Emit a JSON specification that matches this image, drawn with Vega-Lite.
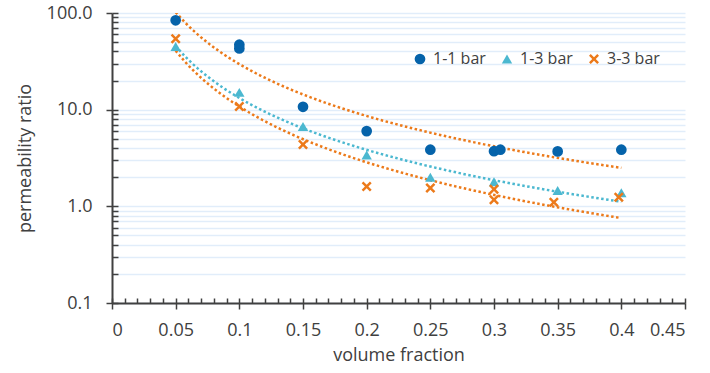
{
  "$schema": "https://vega.github.io/schema/vega-lite/v6.json",
  "width": 573,
  "height": 290,
  "autosize": {"type": "none"},
  "padding": {"left": 112, "top": 13, "right": 25, "bottom": 70},
  "background": "white",
  "config": {
    "font": "Open Sans",
    "view": {"stroke": null},
    "axis": {"labelColor": "#404040", "titleColor": "#404040", "domainColor": "#404040", "tickColor": "#404040", "labelFont": "Open Sans", "titleFont": "Open Sans", "titleFontWeight": "normal", "labelFontSize": 18, "titleFontSize": 18},
    "legend": {"orient": "none", "legendX": 300, "legendY": 38, "direction": "horizontal", "labelFontSize": 16, "labelColor": "#404040", "labelFont": "Open Sans", "columnPadding": 13, "labelOffset": 5, "padding": 0, "symbolStrokeWidth": 0}
  },
  "data": {
    "values": [
      {"series": "1-1 bar", "vf": 0.05, "value": 84},
      {"series": "1-1 bar", "vf": 0.1, "value": 47},
      {"series": "1-1 bar", "vf": 0.1, "value": 43},
      {"series": "1-1 bar", "vf": 0.15, "value": 10.7},
      {"series": "1-1 bar", "vf": 0.2, "value": 6.0},
      {"series": "1-1 bar", "vf": 0.25, "value": 3.85},
      {"series": "1-1 bar", "vf": 0.3, "value": 3.72},
      {"series": "1-1 bar", "vf": 0.305, "value": 3.85},
      {"series": "1-1 bar", "vf": 0.35, "value": 3.7},
      {"series": "1-1 bar", "vf": 0.4, "value": 3.85},
      {"series": "1-3 bar", "vf": 0.05, "value": 45},
      {"series": "1-3 bar", "vf": 0.1, "value": 15.1},
      {"series": "1-3 bar", "vf": 0.15, "value": 6.7},
      {"series": "1-3 bar", "vf": 0.2, "value": 3.4},
      {"series": "1-3 bar", "vf": 0.25, "value": 2.0},
      {"series": "1-3 bar", "vf": 0.3, "value": 1.8},
      {"series": "1-3 bar", "vf": 0.35, "value": 1.46},
      {"series": "1-3 bar", "vf": 0.4, "value": 1.38},
      {"series": "3-3 bar", "vf": 0.05, "value": 54},
      {"series": "3-3 bar", "vf": 0.1, "value": 10.8},
      {"series": "3-3 bar", "vf": 0.15, "value": 4.35},
      {"series": "3-3 bar", "vf": 0.2, "value": 1.6},
      {"series": "3-3 bar", "vf": 0.25, "value": 1.55},
      {"series": "3-3 bar", "vf": 0.3, "value": 1.5},
      {"series": "3-3 bar", "vf": 0.3, "value": 1.17},
      {"series": "3-3 bar", "vf": 0.347, "value": 1.1},
      {"series": "3-3 bar", "vf": 0.398, "value": 1.24}
    ]
  },
  "layer": [
    {
      "mark": {"type": "point", "opacity": 0},
      "encoding": {
        "x": {"field": "vf", "type": "quantitative", "scale": {"domain": [0, 0.45], "nice": false, "zero": false}, "axis": null},
        "y": {"field": "value", "type": "quantitative", "scale": {"type": "log", "domain": [0.1, 100], "nice": false},
          "axis": {"orient": "left", "values": [0.1,0.2,0.3,0.4,0.5,0.6,0.7,0.8,0.9,1,2,3,4,5,6,7,8,9,10,20,30,40,50,60,70,80,90,100], "grid": true, "gridColor": "#E1EDFA", "gridWidth": 1.5, "ticks": false, "labels": false, "domain": false, "title": null}}
      }
    },
    {
      "transform": [{"filter": "datum.series === '1-1 bar'"}, {"regression": "value", "on": "vf", "method": "pow"}],
      "mark": {"type": "line", "color": "#EC7A1A", "strokeWidth": 2.5, "strokeDash": [2.5, 2.5], "clip": true},
      "encoding": {
        "x": {"field": "vf", "type": "quantitative", "scale": {"domain": [0, 0.45], "nice": false, "zero": false},
          "axis": {"orient": "bottom", "values": [0,0.05,0.1,0.15,0.2,0.25,0.3,0.35,0.4,0.45], "format": "~g", "grid": false, "tickSize": 6, "tickWidth": 1.5, "domainWidth": 2, "labelPadding": 12, "title": "volume fraction", "titlePadding": 7}},
        "y": {"field": "value", "type": "quantitative", "scale": {"type": "log", "domain": [0.1, 100], "nice": false},
          "axis": {"orient": "left", "values": [0.1, 1, 10, 100], "format": ".1f", "grid": false, "tickSize": 6, "tickWidth": 1.5, "domainWidth": 2, "labelPadding": 14, "title": "permeability ratio", "titlePadding": 12}}
      }
    },
    {
      "transform": [{"filter": "datum.series === '1-3 bar'"}, {"regression": "value", "on": "vf", "method": "pow"}],
      "mark": {"type": "line", "color": "#4BB8D0", "strokeWidth": 2.5, "strokeDash": [2.5, 2.5], "clip": true},
      "encoding": {
        "x": {"field": "vf", "type": "quantitative", "scale": {"domain": [0, 0.45], "nice": false, "zero": false},
          "axis": {"orient": "bottom", "values": [0,0.01,0.02,0.03,0.04,0.05,0.06,0.07,0.08,0.09,0.1,0.11,0.12,0.13,0.14,0.15,0.16,0.17,0.18,0.19,0.2,0.21,0.22,0.23,0.24,0.25,0.26,0.27,0.28,0.29,0.3,0.31,0.32,0.33,0.34,0.35,0.36,0.37,0.38,0.39,0.4,0.41,0.42,0.43,0.44,0.45], "grid": false, "offset": -5, "tickSize": 5, "tickWidth": 1.5, "domain": false, "labels": false, "title": null}},
        "y": {"field": "value", "type": "quantitative", "scale": {"type": "log", "domain": [0.1, 100], "nice": false},
          "axis": {"orient": "left", "values": [0.1,0.2,0.3,0.4,0.5,0.6,0.7,0.8,0.9,1,2,3,4,5,6,7,8,9,10,20,30,40,50,60,70,80,90,100], "grid": false, "offset": -6, "tickSize": 6, "tickWidth": 1.5, "domain": false, "labels": false, "title": null}}
      }
    },
    {
      "transform": [{"filter": "datum.series === '3-3 bar'"}, {"regression": "value", "on": "vf", "method": "pow"}],
      "mark": {"type": "line", "color": "#EC7A1A", "strokeWidth": 2.5, "strokeDash": [2.5, 2.5], "clip": true},
      "encoding": {
        "x": {"field": "vf", "type": "quantitative", "scale": {"domain": [0, 0.45], "nice": false, "zero": false}, "axis": null},
        "y": {"field": "value", "type": "quantitative", "scale": {"type": "log", "domain": [0.1, 100], "nice": false}, "axis": null}
      }
    },
    {
      "mark": {"type": "point", "filled": true, "opacity": 1, "strokeWidth": 0},
      "encoding": {
        "x": {"field": "vf", "type": "quantitative", "scale": {"domain": [0, 0.45], "nice": false, "zero": false}, "axis": null},
        "y": {"field": "value", "type": "quantitative", "scale": {"type": "log", "domain": [0.1, 100], "nice": false}, "axis": null},
        "color": {"field": "series", "type": "nominal", "scale": {"domain": ["1-1 bar", "1-3 bar", "3-3 bar"], "range": ["#0563AA", "#4BB8D0", "#EC7A1A"]}, "legend": {"title": null}},
        "shape": {"field": "series", "type": "nominal", "scale": {"domain": ["1-1 bar", "1-3 bar", "3-3 bar"], "range": ["circle", "triangle-up", "M-1,-0.65L-0.65,-1L0,-0.35L0.65,-1L1,-0.65L0.35,0L1,0.65L0.65,1L0,0.35L-0.65,1L-1,0.65L-0.35,0Z"]}, "legend": {"title": null}},
        "size": {"field": "series", "type": "nominal", "scale": {"domain": ["1-1 bar", "1-3 bar", "3-3 bar"], "range": [115, 100, 90]}, "legend": null}
      }
    }
  ],
  "resolve": {"axis": {"x": "independent", "y": "independent"}}
}
